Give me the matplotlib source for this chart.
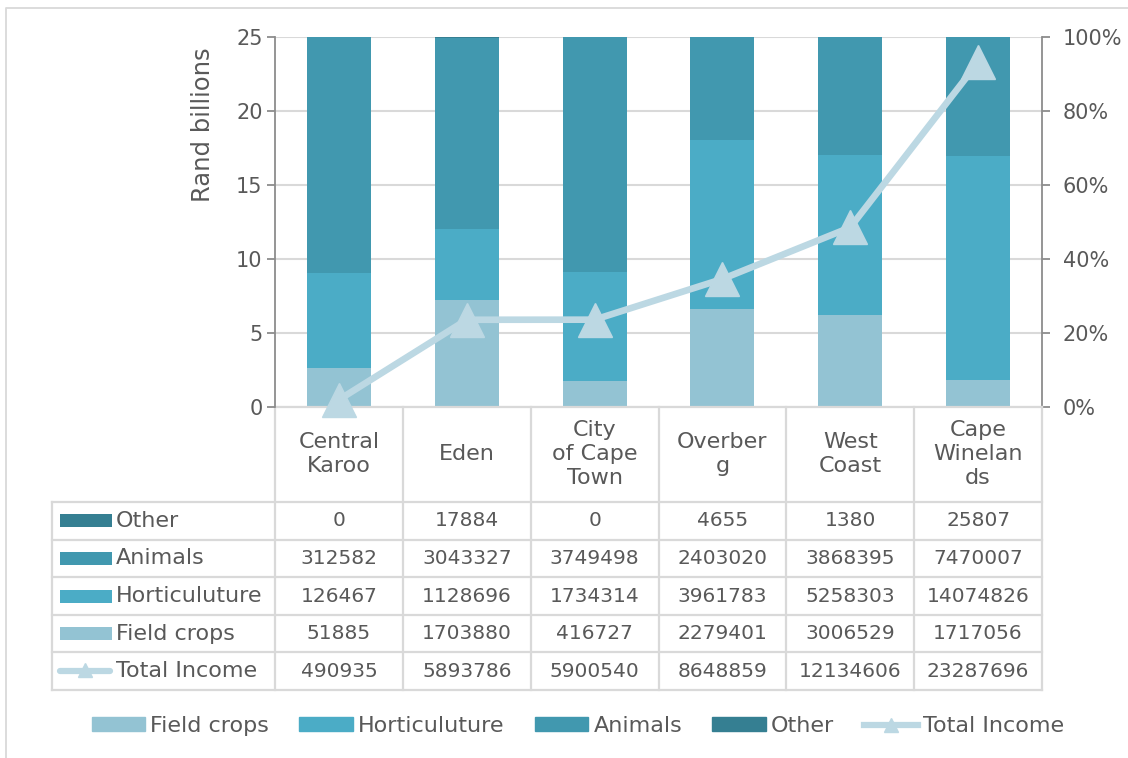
import matplotlib.pyplot as plt
import numpy as np
from matplotlib.patches import Patch, Rectangle
from matplotlib.lines import Line2D
from matplotlib.ticker import PercentFormatter, MultipleLocator

plt.rcParams['font.family'] = ['DejaVu Sans']

# Agricultural income by district (R thousand)
districts = ['Central\nKaroo', 'Eden', 'City\nof Cape\nTown', 'Overber\ng', 'West\nCoast', 'Cape\nWinelan\nds']
field_crops = [51885, 1703880, 416727, 2279401, 3006529, 1717056]
horticulture = [126467, 1128696, 1734314, 3961783, 5258303, 14074826]
animals = [312582, 3043327, 3749498, 2403020, 3868395, 7470007]
other = [0, 17884, 0, 4655, 1380, 25807]
total_income = [490935, 5893786, 5900540, 8648859, 12134606, 23287696]

series_names = ['Field crops', 'Horticuluture', 'Animals', 'Other']
series_vals = [field_crops, horticulture, animals, other]
series_cols = ['#93C3D3', '#4BACC6', '#4198AF', '#357F92']
line_col = '#BCD8E3'
txt_col = '#595959'
grid_col = '#D9D9D9'
axis_col = '#8C8C8C'
FS = 14.5      # numbers and ticks
FS_LAB = 16    # words

W, H = 1128, 758
fig = plt.figure(figsize=(W / 100, H / 100), dpi=100)

# plot area in pixels
L, R, T, B = 275, 1042, 37, 407
ax = fig.add_axes([L / W, 1 - B / H, (R - L) / W, (B - T) / H])
ax2 = ax.twinx()

x = np.arange(len(districts))
comp = np.array(series_vals, dtype=float)
shares = comp / comp.sum(axis=0)

# 100% stacked bars on the percent axis
bottom = np.zeros(len(x))
for name, s, c in zip(series_names, shares, series_cols):
    ax2.bar(x, s, 0.5, bottom=bottom, color=c, label=name, zorder=2)
    bottom += s

ax2.set_ylim(0, 1)
ax2.yaxis.set_major_locator(MultipleLocator(0.2))
ax2.yaxis.set_major_formatter(PercentFormatter(1, decimals=0))
ax2.yaxis.grid(True, color=grid_col, lw=1.5)
ax2.set_axisbelow(True)

# total income line in billions on the left axis, drawn above the bars
ax.set_zorder(ax2.get_zorder() + 1)
ax.patch.set_visible(False)
ax.plot(x, np.array(total_income) / 1e6, color=line_col, lw=4.8,
        marker='^', ms=24, clip_on=False, zorder=5)
ax.set_ylim(0, 25)
ax.yaxis.set_major_locator(MultipleLocator(5))
ax.set_xlim(-0.5, len(x) - 0.5)
ax2.set_xlim(-0.5, len(x) - 0.5)
ax.set_xticks([])
ax2.set_xticks([])

for a in (ax, ax2):
    for sp in a.spines.values():
        sp.set_visible(False)
ax.spines['left'].set_visible(True)
ax.spines['left'].set_color(axis_col)
ax.spines['left'].set_linewidth(1.3)
ax2.spines['right'].set_visible(True)
ax2.spines['right'].set_color(axis_col)
ax2.spines['right'].set_linewidth(1.3)
ax.tick_params(axis='y', direction='out', length=6, width=1.3, color=axis_col,
               labelsize=FS + 0.5, labelcolor=txt_col, pad=3)
ax2.tick_params(axis='y', direction='out', length=6, width=1.3, color=axis_col,
                labelsize=FS + 0.5, labelcolor=txt_col, pad=9)

fig.text(203 / W, 1 - 125 / H, 'Rand billions', rotation=90, ha='center',
         va='center', fontsize=17.5, color=txt_col)

# data table drawn in pixel coordinates under the plot
tab = fig.add_axes([0, 0, 1, 1])
tab.set_xlim(0, W)
tab.set_ylim(H, 0)
tab.axis('off')

col_edges = L + np.arange(len(x) + 1) * (R - L) / len(x)
col_mid = (col_edges[:-1] + col_edges[1:]) / 2
row_edges = np.linspace(502, 690, 6)
row_mid = (row_edges[:-1] + row_edges[1:]) / 2
tl = dict(color=grid_col, lw=1.6, solid_capstyle='projecting')

tab.plot([L, R], [B, B], **tl)
for xe in col_edges:
    tab.plot([xe, xe], [B, row_edges[-1]], **tl)
for ye in row_edges:
    tab.plot([52, R], [ye, ye], **tl)
tab.plot([52, 52], [row_edges[0], row_edges[-1]], **tl)

for cx, name in zip(col_mid, districts):
    tab.text(cx, (B + row_edges[0]) / 2, name, ha='center', va='center',
             fontsize=FS_LAB, color=txt_col, linespacing=1.25)

rows = [('Other', other, series_cols[3]),
        ('Animals', animals, series_cols[2]),
        ('Horticuluture', horticulture, series_cols[1]),
        ('Field crops', field_crops, series_cols[0]),
        ('Total Income', total_income, None)]
for ym, (name, vals, c) in zip(row_mid, rows):
    if c is not None:
        tab.add_patch(Rectangle((60, ym - 6.5), 52, 13, color=c, lw=0))
    else:
        tab.plot([60, 110], [ym, ym], color=line_col, lw=4.5, solid_capstyle='round')
        tab.plot([85], [ym - 1], marker='^', ms=10, color=line_col)
    tab.text(116, ym, name, ha='left', va='center', fontsize=FS_LAB, color=txt_col)
    for cx, v in zip(col_mid, vals):
        tab.text(cx, ym, f'{v}', ha='center', va='center', fontsize=FS, color=txt_col)

# chart border
tab.plot([6, 6, W], [H, 8, 8], color=grid_col, lw=1.3)

handles = [Patch(color=c, label=n) for n, c in zip(series_names, series_cols)]
handles.append(Line2D([], [], color=line_col, lw=4.5, marker='^', ms=10,
                      label='Total Income'))
fig.legend(handles=handles, loc='center', bbox_to_anchor=(578 / W, 1 - 726 / H),
           ncol=5, frameon=False, fontsize=FS_LAB, labelcolor=txt_col,
           handlelength=2.4, handleheight=0.6, handletextpad=0.25,
           columnspacing=1.35)

fig.savefig('out.png', dpi=100)
